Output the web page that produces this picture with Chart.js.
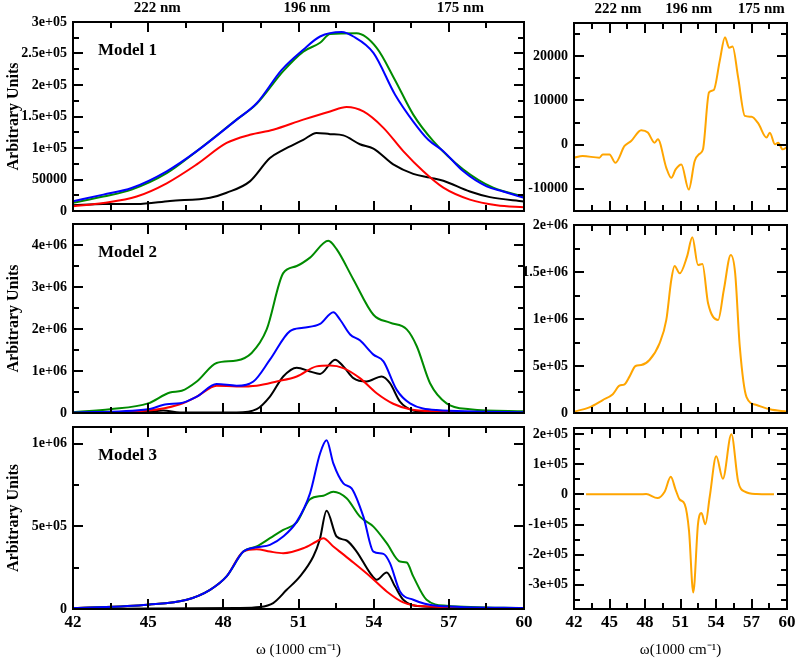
<!DOCTYPE html>
<html><head><meta charset="utf-8">
<script src="https://cdn.jsdelivr.net/npm/chart.js@4.4.1/dist/chart.umd.min.js"></script>
<style>
html,body{margin:0;padding:0;background:#fff;}
#wrap{position:relative;width:800px;height:662px;overflow:hidden;background:#fff;}
canvas{position:absolute;}
</style></head><body>
<div id="wrap">
<canvas id="c1" width="545" height="218" style="left:0;top:0"></canvas>
<canvas id="c2" width="300" height="218" style="left:500px;top:0"></canvas>
<canvas id="c3" width="545" height="205" style="left:0;top:215px"></canvas>
<canvas id="c4" width="300" height="205" style="left:500px;top:215px"></canvas>
<canvas id="c5" width="545" height="244" style="left:0;top:418px"></canvas>
<canvas id="c6" width="300" height="244" style="left:500px;top:418px"></canvas>
</div>
<script>
// ---------- DATA ----------
const nmLabels = [222, 196, 175];

// Model 1
const m1BlueW  = [42, 43.21, 44.34, 45.74, 46.94, 48.53, 49.33, 50.33, 51.19, 51.86, 52.72, 53.19, 53.99, 54.85, 55.58, 56.18, 56.78, 57.58, 58.51, 59.17, 60];
const m1BlueY  = [15500, 26000, 36500, 63000, 95000, 145000, 171000, 224000, 256000, 277000, 284000, 277000, 251000, 185000, 142000, 113000, 95000, 63000, 39000, 31000, 21000];
const m1GreenW = [42, 43.21, 44.34, 45.74, 46.94, 48.53, 49.33, 50.39, 51.19, 51.86, 52.26, 53.32, 54.12, 54.85, 55.58, 56.38, 57.58, 58.77, 60];
const m1GreenY = [13000, 23000, 34000, 60000, 95000, 145000, 170000, 222000, 253000, 267000, 281000, 282000, 259000, 208000, 153000, 111000, 66000, 37000, 23000];
const m1RedW   = [42, 43.21, 44.54, 45.74, 46.94, 48.13, 49.06, 49.99, 51.19, 52.26, 52.92, 53.59, 54.39, 55.18, 55.98, 56.78, 57.84, 58.91, 60];
const m1RedY   = [7400, 12700, 23000, 44000, 74000, 108000, 121000, 129000, 145000, 158000, 165000, 158000, 132000, 95000, 63000, 37000, 18000, 9000, 5800];
const m1BlackW = [42, 43.21, 44.54, 45.87, 47.47, 48.13, 49.06, 49.86, 50.39, 51.19, 51.72, 52.26, 52.79, 53.45, 53.99, 54.78, 55.58, 56.25, 56.78, 57.84, 58.64, 60];
const m1BlackY = [9000, 11000, 11000, 16000, 21000, 29000, 47000, 84000, 97000, 113000, 124000, 122000, 120000, 106000, 99000, 74000, 59000, 53000, 48000, 31000, 22000, 15000];

// Model 2
const m2GreenW = [42, 43.48, 45, 45.87, 46.34, 46.94, 47.73, 48.53, 49.13, 49.73, 50.39, 50.93, 51.46, 52.19, 52.52, 53.19, 53.99, 54.65, 55.32, 55.72, 56.25, 56.91, 57.84, 60];
const m2GreenY = [20000, 90000, 230000, 490000, 530000, 750000, 1190000, 1250000, 1430000, 1990000, 3330000, 3500000, 3700000, 4100000, 3900000, 3180000, 2340000, 2150000, 1990000, 1590000, 710000, 230000, 90000, 40000];
const m2BlueW  = [42, 45, 45.74, 46.27, 46.94, 47.73, 48.53, 49.2, 49.86, 50.66, 51.19, 51.86, 52.39, 52.66, 53.06, 53.45, 53.99, 54.39, 54.92, 55.45, 56.51, 60];
const m2BlueY  = [10000, 90000, 210000, 230000, 390000, 690000, 650000, 750000, 1270000, 1950000, 2030000, 2120000, 2400000, 2220000, 1870000, 1730000, 1390000, 1230000, 550000, 230000, 70000, 20000];
const m2RedW   = [42, 45, 46.27, 46.94, 47.73, 48.53, 49.33, 50.13, 50.93, 51.72, 52.26, 52.79, 53.45, 54.12, 54.78, 55.45, 56.51, 60];
const m2RedY   = [10000, 60000, 210000, 390000, 650000, 630000, 650000, 750000, 870000, 1110000, 1130000, 1070000, 830000, 470000, 220000, 90000, 40000, 10000];
const m2BlackW = [42, 45, 45.6, 46.27, 48.53, 49.33, 49.86, 50.39, 50.93, 51.46, 51.86, 52.46, 52.79, 53.19, 53.72, 54.32, 54.65, 55.05, 55.58, 56.51, 60];
const m2BlackY = [0, 30000, 60000, 10000, 10000, 90000, 390000, 870000, 1080000, 990000, 930000, 1270000, 1110000, 830000, 750000, 870000, 710000, 270000, 60000, 10000, 0];

// Model 3
const m3BlueW  = [42, 45, 46.54, 47.47, 48.13, 48.8, 49.33, 49.86, 50.39, 50.93, 51.46, 51.86, 52.12, 52.39, 52.79, 53.12, 53.59, 53.99, 54.39, 54.65, 55.05, 55.58, 56.51, 60];
const m3BlueY  = [6000, 26000, 56000, 116000, 197000, 347000, 373000, 388000, 438000, 528000, 699000, 940000, 1020000, 880000, 759000, 729000, 558000, 347000, 333000, 277000, 106000, 56000, 20000, 6000];
const m3GreenW = [42, 45, 46.54, 47.47, 48.13, 48.8, 49.33, 49.86, 50.39, 50.93, 51.46, 51.99, 52.39, 52.92, 53.45, 53.99, 54.52, 55.05, 55.32, 55.58, 56.11, 56.91, 60];
const m3GreenY = [6000, 26000, 56000, 116000, 197000, 347000, 378000, 428000, 478000, 524000, 663000, 685000, 709000, 669000, 558000, 498000, 398000, 287000, 281000, 197000, 56000, 20000, 6000];
const m3RedW   = [42, 45, 46.54, 47.47, 48.13, 48.8, 49.33, 49.86, 50.39, 51.19, 51.72, 51.99, 52.39, 53.06, 53.86, 54.52, 55.18, 55.98, 60];
const m3RedY   = [6000, 26000, 56000, 116000, 197000, 347000, 361000, 347000, 337000, 367000, 408000, 428000, 378000, 297000, 197000, 106000, 40000, 16000, 4000];
const m3BlackW = [42, 48.53, 49.46, 49.99, 50.53, 51.06, 51.59, 51.85, 52.12, 52.52, 52.92, 53.32, 53.86, 54.12, 54.52, 54.85, 55.18, 55.85, 60];
const m3BlackY = [0, 6000, 12000, 36000, 116000, 197000, 317000, 420000, 594000, 438000, 414000, 347000, 217000, 177000, 221000, 137000, 56000, 16000, 0];

// Right column (orange)
const r1W = [42, 42.73, 44.15, 44.43, 45, 45.5, 46.27, 46.83, 47.68, 48.24, 48.81, 49.09, 49.8, 50.22, 50.59, 51.07, 51.7, 52.2, 52.62, 52.9, 53.41, 53.81, 54.32, 54.76, 55.11, 55.4, 55.87, 56.44, 57, 57.57, 58.27, 58.55, 58.98, 59.26, 59.63, 60];
const r1Y = [-2950, -2580, -2950, -2200, -2200, -4090, -300, 830, 3260, 2730, 450, 1210, -5230, -7500, -5600, -4470, -10150, -3710, -2050, -1060, 11800, 12350, 19000, 24300, 21900, 22200, 15200, 6500, 6300, 4800, 1600, 2700, 80, 450, -1060, -530];
const r2W = [42, 43.3, 44.43, 45.28, 45.84, 46.27, 46.69, 47.2, 47.68, 48.38, 49.23, 49.8, 50.22, 50.5, 50.93, 51.55, 52.0, 52.48, 52.85, 53.33, 54.18, 54.66, 55.25, 55.62, 56.01, 56.58, 57.43, 58.55, 60];
const r2Y = [14000, 60000, 138000, 200000, 290000, 305000, 387000, 500000, 510000, 564000, 741000, 990000, 1415000, 1564000, 1486000, 1663000, 1869000, 1574000, 1585000, 1167000, 990000, 1309000, 1681000, 1486000, 706000, 170000, 85000, 39000, 14000];
const r3W = [43.02, 47.54, 48.1, 49.05, 49.66, 50.18, 50.59, 50.93, 51.36, 51.72, 52.08, 52.48, 52.77, 53.1, 53.47, 54.02, 54.58, 55.3, 55.87, 56.44, 57.43, 58.9];
const r3Y = [0, 0, 1000, -12000, 9000, 58000, 15000, -17000, -33000, -121000, -325000, -98000, -62000, -99000, -8000, 126000, 52000, 199000, 43000, 9000, 1000, 0];

// ---------- RENDERING ----------
const SERIF = "'Liberation Serif', 'Times New Roman', serif";
Chart.defaults.font.family = SERIF;
Chart.defaults.color = '#000';

const COL = {blue: '#0000ff', green: '#008b00', red: '#ff0000', black: '#000000', orange: '#ffa500'};

function pts(w, y) { return w.map((v, i) => ({x: v, y: y[i]})); }
function ds(w, y, c) {
  return {data: pts(w, y), borderColor: c, borderWidth: 2, pointRadius: 0, fill: false, cubicInterpolationMode: 'monotone'};
}
function gfmt(v) {
  v = Math.round(v);
  if (v === 0) return '0';
  if (Math.abs(v) >= 1e5) return v.toExponential().replace(/e([+-])(\d)$/, 'e$10$2');
  return String(v);
}

const framePlugin = {
  id: 'framePlugin',
  afterDatasetsDraw(chart, args, o) {
    const {ctx, chartArea: a} = chart;
    const xs = chart.scales.x, ys = chart.scales.y;
    ctx.save();
    ctx.strokeStyle = '#000';
    ctx.lineWidth = 2;
    ctx.lineCap = 'butt';
    const MAJ = 10, MIN = 6;
    const nx = Math.round((xs.max - xs.min) / o.xMinor);
    for (let k = 1; k < nx; k++) {
      const v = xs.min + k * o.xMinor;
      const px = Math.round(xs.getPixelForValue(v));
      const L = (k % 2 === 0) ? MAJ : MIN;
      ctx.beginPath();
      ctx.moveTo(px, a.bottom); ctx.lineTo(px, a.bottom - L);
      ctx.moveTo(px, a.top); ctx.lineTo(px, a.top + L);
      ctx.stroke();
    }
    const i0 = Math.ceil(ys.min / o.yMinor - 1e-9), i1 = Math.floor(ys.max / o.yMinor + 1e-9);
    const ratio = Math.round(o.yMajor / o.yMinor);
    for (let i = i0; i <= i1; i++) {
      const v = i * o.yMinor;
      const py = Math.round(ys.getPixelForValue(v));
      if (Math.abs(py - a.top) < 1 || Math.abs(py - a.bottom) < 1) continue;
      const L = (i % ratio === 0) ? MAJ : MIN;
      ctx.beginPath();
      ctx.moveTo(a.left, py); ctx.lineTo(a.left + L, py);
      ctx.moveTo(a.right, py); ctx.lineTo(a.right - L, py);
      ctx.stroke();
    }
    ctx.strokeRect(a.left, a.top, a.right - a.left, a.bottom - a.top);
    if (o.model) {
      ctx.fillStyle = '#000';
      ctx.font = 'bold 17px ' + SERIF;
      ctx.textBaseline = 'middle';
      ctx.textAlign = 'left';
      ctx.fillText(o.model, a.left + 25, a.top + 29);
    }
    ctx.restore();
  }
};

function makeChart(id, c) {
  const scales = {
    x: {
      type: 'linear', position: 'bottom', min: 42, max: 60,
      display: !!c.showX,
      grid: {display: false, drawTicks: false, tickLength: 0},
      border: {display: false},
      afterBuildTicks(s) {
        const t = [];
        for (let v = 42; v <= 60; v += 3) t.push({value: v});
        s.ticks = t;
      },
      ticks: {autoSkip: false, maxRotation: 0, padding: 3,
              color: '#000', font: {size: 17, weight: 'bold'}},
      title: {display: !!c.xTitle, text: c.xTitle || '', color: '#000', font: {size: 15, weight: 'normal'}, padding: {top: 0, bottom: 3}},
      afterFit(s) { if (c.showX) s.height = c.xAxisH; s.paddingLeft = 0; s.paddingRight = 0; }
    },
    y: {
      type: 'linear', position: 'left', min: c.yMin, max: c.yMax,
      grid: {display: false, drawTicks: false, tickLength: 0},
      border: {display: false},
      afterBuildTicks(s) {
        const t = [];
        for (let i = Math.ceil(c.yMin / c.yMajor - 1e-9); i * c.yMajor <= c.yMax + 1e-6; i++) t.push({value: i * c.yMajor});
        s.ticks = t;
      },
      ticks: {autoSkip: false, padding: 6, color: '#000',
              font: {size: 14, weight: 'bold'}, callback: gfmt},
      title: {display: !!c.yTitle, text: c.yTitle || '', color: '#000', font: {size: 16, weight: 'bold'}, padding: {top: 4, bottom: 0}},
      afterFit(s) { s.width = c.yAxisW; s.paddingTop = 0; s.paddingBottom = 0; }
    }
  };
  if (c.topNm) {
    scales.xTop = {
      type: 'linear', position: 'top', min: 42, max: 60,
      grid: {display: false, drawTicks: false, tickLength: 0},
      border: {display: false},
      afterBuildTicks(s) { s.ticks = nmLabels.map(nm => ({value: 1e4 / nm})); },
      ticks: {autoSkip: false, maxRotation: 0, labelOffset: 8, padding: 5, color: '#000',
              font: {size: 15, weight: 'bold'},
              callback: v => Math.round(1e4 / v) + ' nm'},
      afterFit(s) { s.height = c.topH; s.paddingLeft = 0; s.paddingRight = 0; }
    };
  }
  return new Chart(document.getElementById(id), {
    type: 'line',
    data: {datasets: c.datasets},
    options: {
      responsive: false, animation: false, events: [],
      layout: {padding: {top: c.padTop || 0, right: c.padRight, bottom: c.padBottom || 0, left: 0}},
      plugins: {legend: {display: false}, tooltip: {enabled: false},
                framePlugin: {xMinor: 1.5, yMajor: c.yMajor, yMinor: c.yMinor, model: c.model}},
      scales
    },
    plugins: [framePlugin]
  });
}

const AU = 'Arbitrary Units';

makeChart('c1', {
  datasets: [ds(m1BlueW, m1BlueY, COL.blue), ds(m1GreenW, m1GreenY, COL.green), ds(m1RedW, m1RedY, COL.red), ds(m1BlackW, m1BlackY, COL.black)],
  yMin: 0, yMax: 300000, yMajor: 50000, yMinor: 25000, yAxisW: 73, yTitle: AU,
  topNm: true, topH: 22, padRight: 21, padBottom: 7, model: 'Model 1'
});
makeChart('c2', {
  datasets: [ds(r1W, r1Y, COL.orange)],
  yMin: -15000, yMax: 27500, yMajor: 10000, yMinor: 5000, yAxisW: 74,
  topNm: true, topH: 23, padRight: 13, padBottom: 7
});
makeChart('c3', {
  datasets: [ds(m2BlueW, m2BlueY, COL.blue), ds(m2GreenW, m2GreenY, COL.green), ds(m2RedW, m2RedY, COL.red), ds(m2BlackW, m2BlackY, COL.black)],
  yMin: 0, yMax: 4500000, yMajor: 1000000, yMinor: 500000, yAxisW: 73, yTitle: AU,
  padTop: 9, padRight: 21, padBottom: 7, model: 'Model 2'
});
makeChart('c4', {
  datasets: [ds(r2W, r2Y, COL.orange)],
  yMin: 0, yMax: 2000000, yMajor: 500000, yMinor: 250000, yAxisW: 74,
  padTop: 10, padRight: 13, padBottom: 7
});
makeChart('c5', {
  datasets: [ds(m3BlueW, m3BlueY, COL.blue), ds(m3GreenW, m3GreenY, COL.green), ds(m3RedW, m3RedY, COL.red), ds(m3BlackW, m3BlackY, COL.black)],
  yMin: 0, yMax: 1100000, yMajor: 500000, yMinor: 250000, yAxisW: 73, yTitle: AU,
  padTop: 9, padRight: 21, showX: true, xAxisH: 53, xTitle: 'ω (1000 cm⁻¹)', model: 'Model 3'
});
makeChart('c6', {
  datasets: [ds(r3W, r3Y, COL.orange)],
  yMin: -380000, yMax: 220000, yMajor: 100000, yMinor: 50000, yAxisW: 74,
  padTop: 10, padRight: 13, showX: true, xAxisH: 53, xTitle: 'ω(1000 cm⁻¹)'
});
</script>
</body></html>
